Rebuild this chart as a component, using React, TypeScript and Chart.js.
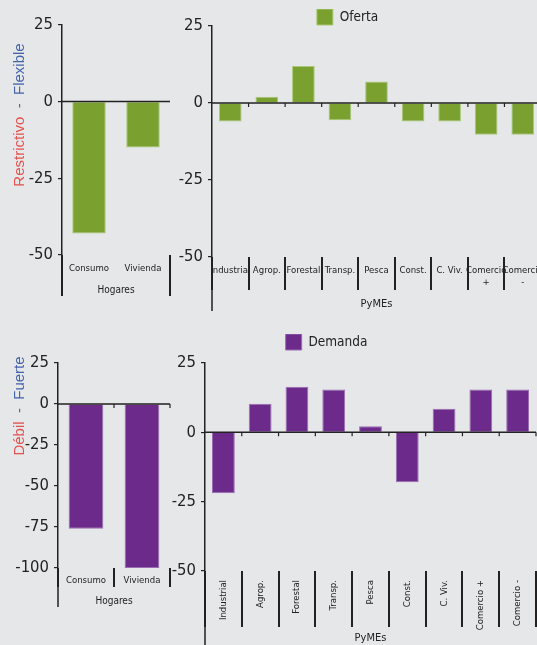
import React, { useEffect, useRef } from 'react';
import { Chart, registerables } from 'chart.js';

Chart.register(...registerables);

// ---------- data ----------
const hogaresLabels = ['Consumo', 'Vivienda'];
const pymesLabelsOferta: (string | string[])[] = [
  'Industrial', 'Agrop.', 'Forestal', 'Transp.', 'Pesca', 'Const.', 'C. Viv.', ['Comercio', '+'], ['Comercio', '-'],
];
const pymesLabelsDemanda = [
  'Industrial', 'Agrop.', 'Forestal', 'Transp.', 'Pesca', 'Const.', 'C. Viv.', 'Comercio +', 'Comercio -',
];
const ofertaHogares = [-43, -15];
const ofertaPymes = [-6, 2, 12, -5.6, 7, -6, -6, -10.3, -10.3];
const demandaHogares = [-76, -100];
const demandaPymes = [-22, 10.3, 16.4, 15.4, 2.2, -18, 8.5, 15.4, 15.4];

const ofertaRange = { min: -50, max: 25 };
const demandaHogaresRange = { min: -100, max: 25 };
const demandaPymesRange = { min: -50, max: 25 };
const tickStep = 25;

const GREEN = '#7aa12f';
const GREEN_EDGE = '#a9c874';
const PURPLE = '#6c2a8b';
const PURPLE_EDGE = '#9a6db3';
const INK = '#222222';
const BG = '#e6e7e9';
const NARROW = "'Liberation Sans Narrow', 'DejaVu Sans Condensed', 'Roboto Condensed', sans-serif";
const REGULAR = "'Liberation Sans', Arial, sans-serif";

interface PanelCfg {
  left: number; top: number; width: number; height: number;
  labels: (string | string[])[]; data: number[];
  color: string; edge: string; legend?: string; legendMaxH?: number; spacer?: number;
  range: { min: number; max: number };
  yWidth: number; xHeight: number; padTop: number; padRight: number;
  sepLen: number; labelPad: number; rotate: number; labelLH: number;
  title: string; titleSize: number; hideMiddleSep: boolean; zeroTicks: boolean;
}

const axisExtras = {
  id: 'axisExtras',
  afterDatasetsDraw(chart: any, _args: any, opts: any) {
    const { ctx, chartArea } = chart;
    const xs = chart.scales.x;
    const ys = chart.scales.y;
    const y0 = ys.getPixelForValue(0);
    ctx.save();
    ctx.strokeStyle = INK;
    ctx.lineWidth = 1.5;
    ctx.beginPath();
    ctx.moveTo(chartArea.left, y0);
    ctx.lineTo(chartArea.right, y0);
    ctx.moveTo(chartArea.left, chartArea.bottom);
    ctx.lineTo(chartArea.left, chart.height);
    ctx.stroke();
    if (opts && opts.zeroTicks) {
      const n = chart.data.labels.length;
      ctx.beginPath();
      ctx.lineWidth = 1.2;
      for (let i = 1; i <= n; i++) {
        const px = i < n ? (xs.getPixelForValue(i - 1) + xs.getPixelForValue(i)) / 2 : chartArea.right;
        ctx.moveTo(px, y0);
        ctx.lineTo(px, y0 + 4);
      }
      ctx.stroke();
    }
    ctx.restore();
  },
};

function buildConfig(c: PanelCfg): any {
  const scales: any = {
    x: {
      type: 'category',
      position: 'bottom',
      grid: {
        display: true, drawOnChartArea: false, drawTicks: true, tickLength: c.sepLen, offset: true,
        lineWidth: 2,
        color: (ctx: any) => (c.hideMiddleSep && ctx.index > 0 && ctx.index < c.labels.length ? 'rgba(0,0,0,0)' : INK),
      },
      border: { display: false },
      ticks: {
        autoSkip: false, padding: c.labelPad, maxRotation: c.rotate, minRotation: c.rotate, color: INK,
        font: { family: NARROW, size: 9.5, lineHeight: c.labelLH },
      },
      title: {
        display: true, text: c.title, color: INK, padding: { top: 0, bottom: 0 },
        font: { family: NARROW, size: c.titleSize, lineHeight: 1.2 },
      },
      afterFit: (s: any) => { s.height = c.xHeight; },
    },
    y: {
      min: c.range.min, max: c.range.max,
      ticks: { stepSize: tickStep, padding: 5, color: INK, font: { family: NARROW, size: 16.5 } },
      grid: { drawOnChartArea: false, drawTicks: true, tickLength: 4, color: INK, lineWidth: 1.2 },
      border: { display: true, color: INK, width: 1.5 },
      afterFit: (s: any) => { s.width = c.yWidth; },
    },
  };
  if (c.spacer) {
    scales.xs = {
      type: 'category', position: 'top', display: true,
      grid: { display: false }, border: { display: false }, ticks: { display: false },
      afterFit: (s: any) => { s.height = c.spacer; },
    };
  }
  return {
    type: 'bar',
    data: {
      labels: c.labels,
      datasets: [{
        label: c.legend || '',
        data: c.data,
        backgroundColor: c.color,
        borderColor: c.edge,
        borderWidth: 1,
        barPercentage: 0.62,
        categoryPercentage: 1,
        xAxisID: 'x',
        yAxisID: 'y',
      }],
    },
    options: {
      responsive: false,
      maintainAspectRatio: false,
      animation: false,
      layout: { padding: { top: c.padTop, right: c.padRight, left: 0, bottom: 0 } },
      plugins: {
        legend: {
          display: !!c.legend,
          position: 'top',
          maxHeight: c.legendMaxH,
          labels: {
            boxWidth: 16, boxHeight: 16, padding: 0, color: INK,
            font: { family: NARROW, size: 13.5 },
          },
        },
        tooltip: { enabled: false },
        axisExtras: { zeroTicks: c.zeroTicks },
      },
      scales,
    },
    plugins: [axisExtras],
  };
}

const panels: PanelCfg[] = [
  {
    left: 10, top: 10, width: 165, height: 286,
    labels: hogaresLabels, data: ofertaHogares, color: GREEN, edge: GREEN_EDGE,
    range: ofertaRange, yWidth: 52, xHeight: 41, padTop: 14, padRight: 5,
    sepLen: 41, labelPad: -33, rotate: 0, labelLH: 1.2,
    title: 'Hogares', titleSize: 10, hideMiddleSep: true, zeroTicks: false,
  },
  {
    left: 154, top: 0, width: 391, height: 311,
    labels: pymesLabelsOferta, data: ofertaPymes, color: GREEN, edge: GREEN_EDGE,
    legend: 'Oferta', legendMaxH: 17,
    range: ofertaRange, yWidth: 58, xHeight: 54, padTop: 9, padRight: 4,
    sepLen: 33, labelPad: -26, rotate: 0, labelLH: 1.3,
    title: 'PyMEs', titleSize: 11, hideMiddleSep: false, zeroTicks: true,
  },
  {
    left: 10, top: 346, width: 165, height: 261,
    labels: hogaresLabels, data: demandaHogares, color: PURPLE, edge: PURPLE_EDGE,
    range: demandaHogaresRange, yWidth: 48, xHeight: 39, padTop: 17, padRight: 5,
    sepLen: 19, labelPad: -12, rotate: 0, labelLH: 1.2,
    title: 'Hogares', titleSize: 10, hideMiddleSep: false, zeroTicks: true,
  },
  {
    left: 117, top: 320, width: 421, height: 325,
    labels: pymesLabelsDemanda, data: demandaPymes, color: PURPLE, edge: PURPLE_EDGE,
    legend: 'Demanda', spacer: 3,
    range: demandaPymesRange, yWidth: 88, xHeight: 74, padTop: 14, padRight: 2,
    sepLen: 56, labelPad: -47, rotate: 90, labelLH: 1.2,
    title: 'PyMEs', titleSize: 11, hideMiddleSep: false, zeroTicks: true,
  },
];

function Panel({ cfg }: { cfg: PanelCfg }) {
  const ref = useRef<HTMLCanvasElement>(null);
  useEffect(() => {
    const chart = new Chart(ref.current as HTMLCanvasElement, buildConfig(cfg));
    return () => chart.destroy();
  }, [cfg]);
  return (
    <canvas
      ref={ref}
      width={cfg.width}
      height={cfg.height}
      style={{ position: 'absolute', left: cfg.left, top: cfg.top, width: cfg.width, height: cfg.height }}
    />
  );
}

function AxisTitle({ x, y, neg, pos }: { x: number; y: number; neg: string; pos: string }) {
  return (
    <div
      style={{
        position: 'absolute', left: x, top: y, transform: 'translate(-50%, -50%) rotate(-90deg)',
        whiteSpace: 'nowrap', fontFamily: REGULAR, fontSize: 15, lineHeight: '18px',
      }}
    >
      <span style={{ color: '#e3524e' }}>{neg}</span>
      <span style={{ color: '#666' }}>{'\u00a0\u00a0-\u00a0\u00a0'}</span>
      <span style={{ color: '#4563ab' }}>{pos}</span>
    </div>
  );
}

export default function App() {
  return (
    <div
      style={{
        position: 'fixed', left: 0, top: 0, width: 537, height: 645, overflow: 'hidden', background: BG,
      }}
    >
      {panels.map((p, i) => <Panel key={i} cfg={p} />)}
      <AxisTitle x={19} y={115} neg="Restrictivo" pos="Flexible" />
      <AxisTitle x={19} y={406} neg="Débil" pos="Fuerte" />
    </div>
  );
}
